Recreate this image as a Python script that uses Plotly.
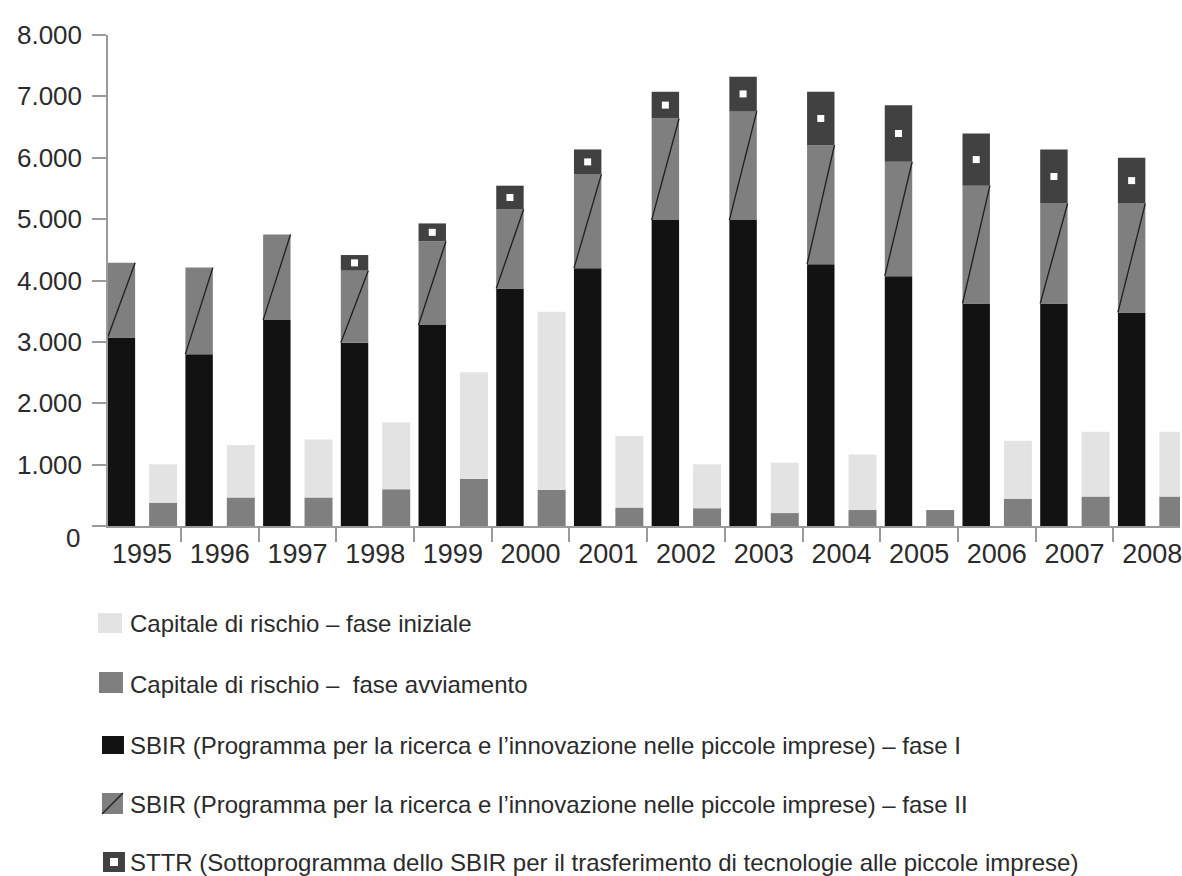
import plotly.graph_objects as go

# ---- data (milioni di dollari) ----
years = ["1995", "1996", "1997", "1998", "1999", "2000", "2001",
         "2002", "2003", "2004", "2005", "2006", "2007", "2008"]

sbir_fase1 = [3070, 2800, 3355, 2985, 3275, 3870, 4200,
              4985, 4985, 4265, 4070, 3625, 3625, 3480]
sbir_fase2 = [1220, 1410, 1395, 1175, 1365, 1290, 1530,
              1655, 1775, 1940, 1865, 1920, 1630, 1775]
sttr = [0, 0, 0, 255, 290, 385, 405,
        435, 560, 870, 920, 850, 880, 745]

vc_avviamento = [380, 465, 465, 600, 765, 585, 300,
                 290, 210, 260, 260, 445, 480, 480]
vc_iniziale = [625, 855, 945, 1090, 1740, 2905, 1165,
               715, 820, 905, 0, 945, 1055, 1055]

y_ticks = [0, 1000, 2000, 3000, 4000, 5000, 6000, 7000, 8000]

legend_labels = [
    "Capitale di rischio – fase iniziale",
    "Capitale di rischio –  fase avviamento",
    "SBIR (Programma per la ricerca e l’innovazione nelle piccole imprese) – fase I",
    "SBIR (Programma per la ricerca e l’innovazione nelle piccole imprese) – fase II",
    "STTR (Sottoprogramma dello SBIR per il trasferimento di tecnologie alle piccole imprese)",
]

# ---- style ----
FONT = "Liberation Sans Narrow, Arial Narrow, Liberation Sans, Arial, sans-serif"
TEXT = "#2b2b2b"
AXIS = "#9a9a9a"
C_BLACK = "#121212"
C_MID = "#7f7f7f"
C_DARK = "#414141"
C_LIGHT = "#e3e3e3"

W, H = 1182, 876
M_L, M_R, M_T, M_B = 108, 0, 35, 350
X_RANGE = [-0.438, 13.357]

SBIR_OFF, SBIR_W = -0.442, 0.353
VC_OFF, VC_W = 0.091, 0.36

n = len(years)
idx = list(range(n))
base_fase2 = sbir_fase1
base_sttr = [a + b for a, b in zip(sbir_fase1, sbir_fase2)]

fig = go.Figure()

bar_common = dict(marker_line_width=0, showlegend=False, hoverinfo="x+y+name")

fig.add_trace(go.Bar(x=years, y=sbir_fase1, base=[0] * n, name=legend_labels[2],
                     offset=SBIR_OFF, width=SBIR_W, marker_color=C_BLACK, **bar_common))
fig.add_trace(go.Bar(x=years, y=sbir_fase2, base=base_fase2, name=legend_labels[3],
                     offset=SBIR_OFF, width=SBIR_W, marker_color=C_MID, **bar_common))
fig.add_trace(go.Bar(x=years, y=sttr, base=base_sttr, name=legend_labels[4],
                     offset=SBIR_OFF, width=SBIR_W, marker_color=C_DARK, **bar_common))
fig.add_trace(go.Bar(x=years, y=vc_avviamento, base=[0] * n, name=legend_labels[1],
                     offset=VC_OFF, width=VC_W, marker_color=C_MID, **bar_common))
fig.add_trace(go.Bar(x=years, y=vc_iniziale, base=vc_avviamento, name=legend_labels[0],
                     offset=VC_OFF, width=VC_W, marker_color=C_LIGHT, **bar_common))

# diagonal stroke across each SBIR fase II segment
dx, dy = [], []
for i in idx:
    dx += [i + SBIR_OFF, i + SBIR_OFF + SBIR_W, None]
    dy += [base_fase2[i], base_fase2[i] + sbir_fase2[i], None]
fig.add_trace(go.Scatter(x=dx, y=dy, xaxis="x2", mode="lines",
                         line=dict(color="#1e1e1e", width=1.3),
                         showlegend=False, hoverinfo="skip"))

# white square inside each STTR segment
mx = [i + SBIR_OFF + SBIR_W / 2 for i in idx if sttr[i] > 0]
my = [base_sttr[i] + sttr[i] / 2 for i in idx if sttr[i] > 0]
fig.add_trace(go.Scatter(x=mx, y=my, xaxis="x2", mode="markers",
                         marker=dict(symbol="square", size=7, color="white",
                                     line=dict(width=0)),
                         showlegend=False, hoverinfo="skip"))


def fmt_it(v):
    return f"{v:,}".replace(",", ".")


fig.update_layout(
    width=W, height=H,
    margin=dict(l=M_L, r=M_R, t=M_T, b=M_B),
    paper_bgcolor="white", plot_bgcolor="white",
    barmode="overlay",
    font=dict(family=FONT, color=TEXT),
    xaxis=dict(
        type="category", categoryorder="array", categoryarray=years,
        range=X_RANGE, tickson="boundaries",
        ticks="outside", ticklen=14, tickwidth=1.5, tickcolor=AXIS,
        showline=True, linecolor=AXIS, linewidth=1.5,
        showgrid=False, zeroline=False,
        tickfont=dict(size=27, family=FONT, color=TEXT),
        ticklabelstandoff=3,
    ),
    xaxis2=dict(overlaying="x", range=X_RANGE, visible=False, anchor="y"),
    yaxis=dict(
        range=[0, 8000], tickvals=y_ticks,
        ticktext=["" if v == 0 else fmt_it(v) for v in y_ticks],
        ticks="outside", ticklen=14, tickwidth=1.5, tickcolor=AXIS,
        showline=True, linecolor=AXIS, linewidth=1.5,
        showgrid=False, zeroline=False,
        tickfont=dict(size=26, family=FONT, color=TEXT),
        ticklabelstandoff=5,
    ),
)

# the zero label sits slightly below its tick
fig.add_annotation(x=0, xref="paper", y=0, yref="y", text="0", showarrow=False,
                   xanchor="right", yanchor="middle", xshift=-26, yshift=-12,
                   font=dict(size=26, family=FONT, color=TEXT))

# ---- legend drawn below the plot ----
PW = W - M_L - M_R
PH = H - M_T - M_B


def px(xp):
    return (xp - M_L) / PW


def py(yp):
    return (H - M_B - yp) / PH


legend_boxes = [
    (98, 613, 122, 633, C_LIGHT),
    (99, 672, 123, 693, C_MID),
    (102, 736, 124, 754, C_BLACK),
    (102, 793, 123, 814, C_MID),
    (103, 852, 125, 872, C_DARK),
]
legend_rows = [623, 684, 745, 804, 862]

for (x0, y0, x1, y1, col) in legend_boxes:
    fig.add_shape(type="rect", xref="paper", yref="paper",
                  x0=px(x0), x1=px(x1), y0=py(y1), y1=py(y0),
                  fillcolor=col, line=dict(width=0))

# diagonal in the fase II swatch
x0, y0, x1, y1, _ = legend_boxes[3]
fig.add_shape(type="line", xref="paper", yref="paper",
              x0=px(x0), y0=py(y1), x1=px(x1), y1=py(y0),
              line=dict(color="#1e1e1e", width=1.3))
# white square in the STTR swatch
x0, y0, x1, y1, _ = legend_boxes[4]
cx, cy = (x0 + x1) / 2, (y0 + y1) / 2
fig.add_shape(type="rect", xref="paper", yref="paper",
              x0=px(cx - 4), x1=px(cx + 4), y0=py(cy + 4), y1=py(cy - 4),
              fillcolor="white", line=dict(width=0))

for label, row in zip(legend_labels, legend_rows):
    fig.add_annotation(x=px(128), y=py(row), xref="paper", yref="paper",
                       text=label, showarrow=False, xanchor="left", yanchor="middle",
                       font=dict(size=24, family=FONT, color=TEXT))

fig.write_html("out.html")
